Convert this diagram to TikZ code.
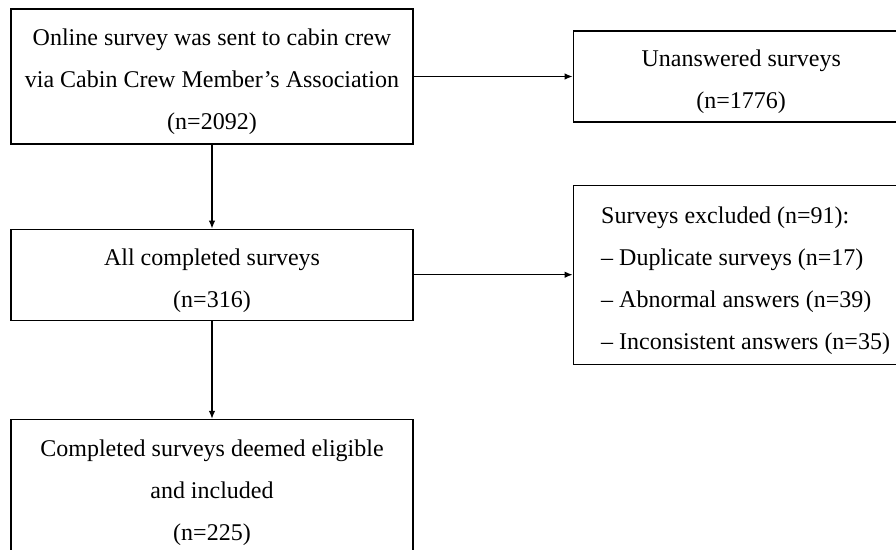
\documentclass[tikz,border=0pt]{standalone}
\usepackage{fontspec}
\setmainfont{Liberation Serif}
\usetikzlibrary{positioning,arrows.meta}

% pushes the text block a little down in its box
\newcommand{\toppad}{\rule{0pt}{28pt}}

\begin{document}
\begin{tikzpicture}[x=1pt, y=1pt, >={Latex[length=8pt,width=6.5pt]}]
  \tikzset{flowbox/.style = {draw, line width=1.2pt, inner sep=0pt,
                             align=center, font=\fontsize{24}{42}\selectfont},
           mainbox/.style = {flowbox, minimum width=402pt},
           sidebox/.style = {flowbox, minimum width=336pt},
           flow/.style = {->, line width=1.2pt}}
\useasboundingbox (0,0) rectangle (896,-549);

\node[mainbox, minimum height=135pt] (sent) at (212,-76.5)
  {\toppad Online survey was sent to cabin crew\\
   via Cabin Crew Member’s Association\\ (n=2092)};
\node[sidebox, minimum height=91pt, right=159pt of sent] (unanswered)
  {\toppad Unanswered surveys\\ (n=1776)};

\node[mainbox, minimum height=91pt, below=84pt of sent] (completed)
  {\toppad All completed surveys\\ (n=316)};
\node[flowbox, minimum height=179pt, align=flush left, text width=310pt,
      inner xsep=28pt, right=159pt of completed] (excluded)
  {\toppad Surveys excluded (n=91):\\
   – Duplicate surveys (n=17)\\
   – Abnormal answers (n=39)\\
   – Inconsistent answers (n=35)};

\node[mainbox, minimum height=135pt, below=98pt of completed] (included)
  {\toppad Completed surveys deemed eligible\\ and included\\ (n=225)};

\draw[flow] (sent) -- (unanswered);
\draw[flow] (sent) -- (completed);
\draw[flow] (completed) -- (excluded);
\draw[flow] (completed) -- (included);

\end{tikzpicture}
\end{document}
